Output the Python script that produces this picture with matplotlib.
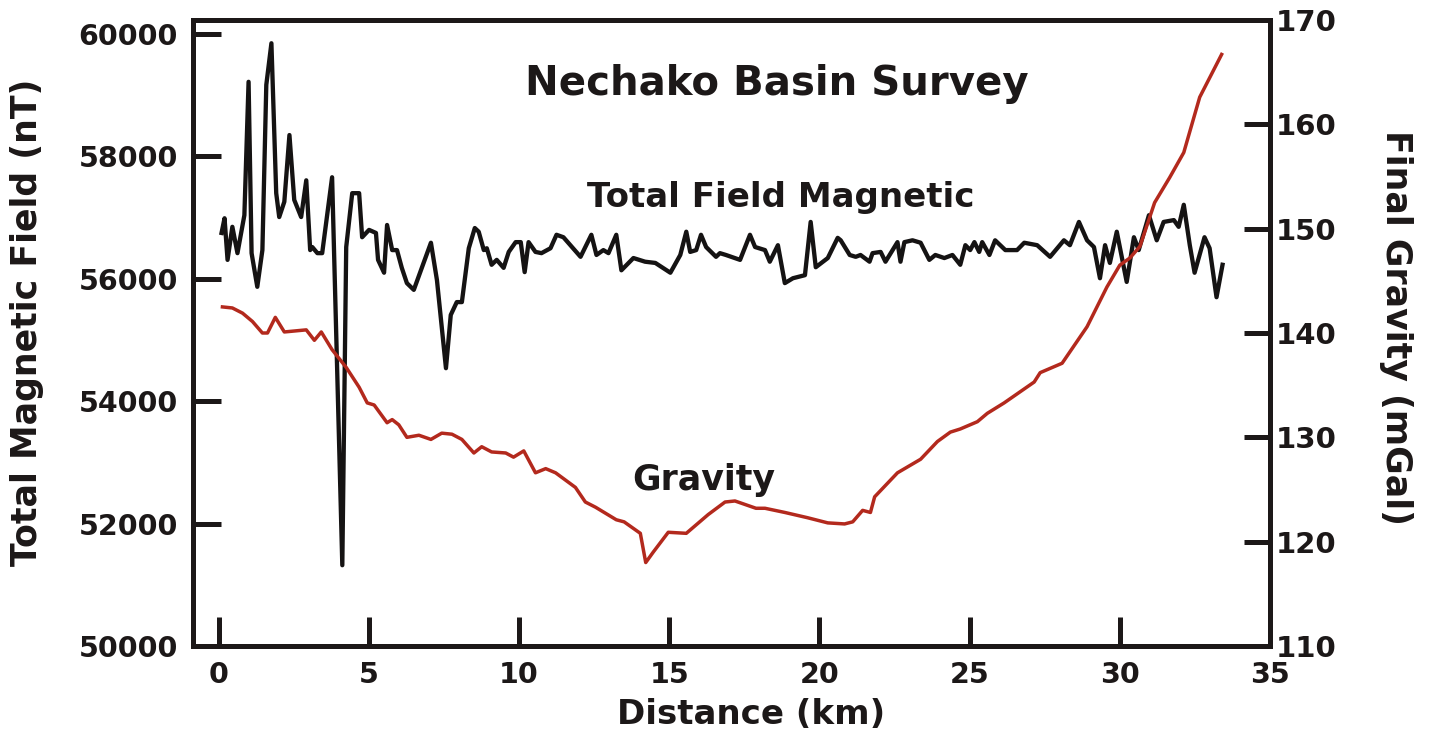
import numpy as np
import matplotlib
matplotlib.use('Agg')
import matplotlib.pyplot as plt

plt.rcParams['font.family'] = ['DejaVu Sans']
plt.rcParams['font.weight'] = 'bold'

# Total field magnetic profile (km, nT)
mag_km = [0.10, 0.20, 0.30, 0.46, 0.63, 0.86, 1.00, 1.10, 1.29, 1.46, 1.59, 1.76, 1.92,
          2.02, 2.19, 2.36, 2.52, 2.75, 2.92, 3.05, 3.12, 3.29, 3.45, 3.78, 4.12, 4.25,
          4.45, 4.68, 4.78, 5.01, 5.24, 5.31, 5.51, 5.61, 5.78, 5.94, 6.10, 6.27, 6.50,
          7.07, 7.27, 7.57, 7.73, 7.93, 8.10, 8.33, 8.53, 8.66, 8.83, 8.93, 9.09, 9.26,
          9.49, 9.66, 9.89, 10.06, 10.19, 10.32, 10.55, 10.75, 11.05, 11.25, 11.48,
          12.05, 12.41, 12.58, 12.81, 12.98, 13.24, 13.41, 13.81, 14.20, 14.54, 15.04,
          15.37, 15.57, 15.70, 15.90, 16.06, 16.23, 16.56, 16.69, 16.89, 17.36, 17.69,
          17.86, 18.19, 18.35, 18.62, 18.85, 19.12, 19.52, 19.71, 19.88, 20.28, 20.61,
          20.71, 21.01, 21.21, 21.37, 21.67, 21.77, 22.04, 22.20, 22.60, 22.70, 22.83,
          23.10, 23.37, 23.66, 23.86, 24.16, 24.43, 24.69, 24.86, 25.02, 25.16, 25.32,
          25.42, 25.66, 25.85, 26.19, 26.58, 26.82, 27.25, 27.68, 28.14, 28.34, 28.64,
          28.91, 29.14, 29.34, 29.51, 29.67, 29.90, 30.23, 30.47, 30.63, 30.97, 31.23,
          31.46, 31.80, 31.96, 32.13, 32.33, 32.49, 32.82, 32.99, 33.22, 33.42]
mag_nT = [56750, 56990, 56310, 56850, 56420, 57040, 59220, 56420, 55870, 56470, 59170, 59850, 57400,
          57010, 57260, 58350, 57290, 57010, 57610, 56470, 56520, 56420, 56420, 57660, 51320, 56520,
          57400, 57400, 56680, 56800, 56750, 56310, 56100, 56880, 56470, 56470, 56180, 55930, 55820,
          56590, 55980, 54540, 55410, 55620, 55620, 56500, 56830, 56770, 56470, 56500, 56230, 56310,
          56180, 56440, 56600, 56600, 56110, 56600, 56440, 56420, 56500, 56720, 56680,
          56360, 56720, 56390, 56470, 56420, 56720, 56140, 56340, 56280, 56260, 56100,
          56390, 56770, 56440, 56470, 56720, 56520, 56360, 56420, 56390, 56310, 56720,
          56520, 56470, 56280, 56550, 55930, 56010, 56060, 56930, 56190, 56340, 56670,
          56630, 56390, 56360, 56390, 56280, 56420, 56440, 56280, 56600, 56280, 56600,
          56630, 56590, 56310, 56390, 56340, 56390, 56230, 56550, 56470, 56600, 56440,
          56600, 56390, 56630, 56470, 56470, 56590, 56550, 56360, 56630, 56550, 56930,
          56630, 56520, 56010, 56550, 56260, 56770, 55950, 56680, 56470, 57040, 56630,
          56930, 56960, 56850, 57210, 56550, 56100, 56680, 56500, 55700, 56230]

# Final gravity profile (km, mGal)
grav_km = [0.13, 0.46, 0.80, 1.13, 1.46, 1.63, 1.89, 2.19, 2.92, 3.19, 3.42, 3.78, 4.25, 4.68,
           4.95, 5.18, 5.61, 5.78, 6.00, 6.27, 6.67, 7.07, 7.43, 7.77, 8.10, 8.50, 8.76, 9.09,
           9.56, 9.82, 10.16, 10.55, 10.89, 11.22, 11.88, 12.21, 12.55, 13.24, 13.50, 14.04,
           14.22, 14.47, 14.97, 15.57, 16.30, 16.86, 17.19, 17.89, 18.19, 18.85, 19.60, 20.28,
           20.84, 21.11, 21.44, 21.70, 21.84, 22.60, 23.37, 23.93, 24.36, 24.69, 25.26, 25.59,
           26.15, 27.15, 27.35, 28.08, 28.91, 29.57, 30.00, 30.34, 30.67, 31.16, 31.66, 32.13,
           32.66, 33.39]
grav_mGal = [142.5, 142.4, 141.9, 141.1, 140.0, 140.0, 141.5, 140.1, 140.3, 139.3, 140.1, 138.4, 136.7, 134.8,
             133.3, 133.1, 131.4, 131.7, 131.2, 130.0, 130.2, 129.8, 130.4, 130.3, 129.8, 128.5, 129.1, 128.6,
             128.5, 128.1, 128.7, 126.6, 127.0, 126.6, 125.2, 123.8, 123.3, 122.1, 121.9, 120.8,
             118.0, 119.0, 120.9, 120.8, 122.6, 123.8, 123.9, 123.2, 123.2, 122.8, 122.3, 121.8,
             121.7, 121.9, 123.0, 122.8, 124.3, 126.6, 127.9, 129.6, 130.5, 130.8, 131.5, 132.3,
             133.3, 135.3, 136.2, 137.1, 140.6, 144.4, 146.5, 147.2, 148.3, 152.5, 154.9, 157.3,
             162.6, 166.7]

x_ticks = [0, 5, 10, 15, 20, 25, 30, 35]
mag_ticks = [50000, 52000, 54000, 56000, 58000, 60000]
grav_ticks = [110, 120, 130, 140, 150, 160, 170]

ink = '#1c1818'
red = '#b3291d'

fig = plt.figure(figsize=(14.32, 7.40), dpi=100)
ax = fig.add_axes([193 / 1432, 94 / 740, 1077 / 1432, 626 / 740])
ax2 = ax.twinx()

ax.plot(mag_km, mag_nT, color='#151313', lw=3.1, zorder=3)
ax2.plot(grav_km, grav_mGal, color=red, lw=2.5, zorder=2)

ax.set_xlim(-0.85, 35)
ax.set_ylim(50000, 60230)
ax2.set_ylim(110, 170)

ax.set_xticks(x_ticks)
ax.set_yticks(mag_ticks)
ax2.set_yticks(grav_ticks)

for a in (ax, ax2):
    for s in a.spines.values():
        s.set_linewidth(3.6)
        s.set_color(ink)

ax.tick_params(axis='x', direction='in', length=21, width=3.6, color=ink,
               labelsize=20.5, pad=11, labelcolor=ink)
ax.tick_params(axis='y', direction='in', length=20, width=3.6, color=ink,
               labelsize=20.5, pad=11, labelcolor=ink)
ax2.tick_params(axis='y', direction='in', length=19, width=3.6, color=ink,
                labelsize=21, pad=4, labelcolor=ink)

fig.text(777 / 1432, 1 - 95 / 740, 'Nechako Basin Survey', fontsize=29,
         ha='center', va='baseline', color=ink)
fig.text(781 / 1432, 1 - 207 / 740, 'Total Field Magnetic', fontsize=24.5,
         ha='center', va='baseline', color=ink)
fig.text(704 / 1432, 1 - 490 / 740, 'Gravity', fontsize=25,
         ha='center', va='baseline', color=ink)

fig.text(751 / 1432, 1 - 714 / 740, 'Distance (km)', fontsize=24.5,
         ha='center', va='center', color=ink)
fig.text(27 / 1432, 1 - 322 / 740, 'Total Magnetic Field (nT)', fontsize=25,
         ha='center', va='center', rotation=90, color=ink)
fig.text(1396 / 1432, 1 - 327 / 740, 'Final Gravity (mGal)', fontsize=25,
         ha='center', va='center', rotation=270, color=ink)

fig.savefig('out.png', dpi=100)
